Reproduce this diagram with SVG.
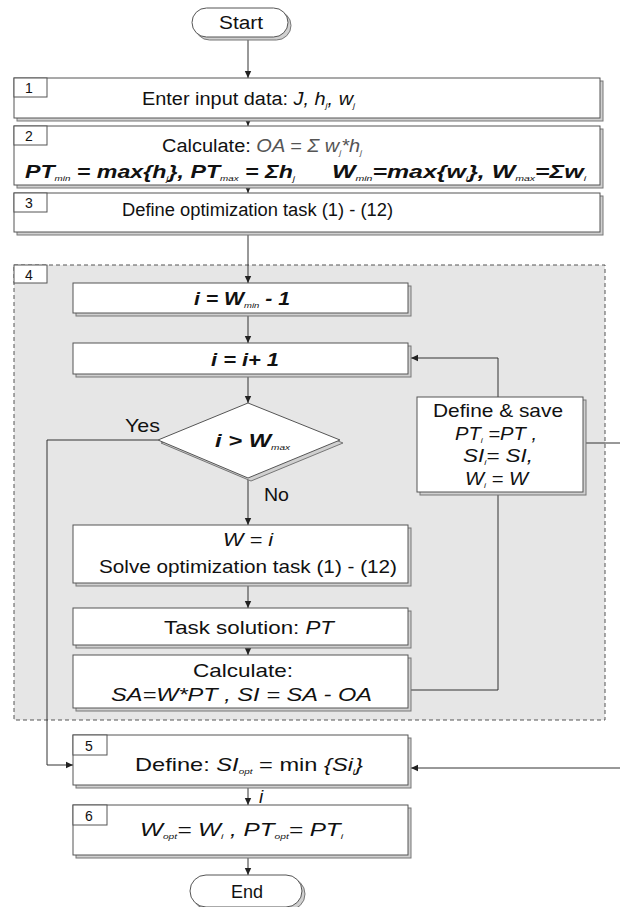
<svg xmlns="http://www.w3.org/2000/svg" width="620" height="907" viewBox="0 0 620 907">
<style>
text{font-family:"Liberation Sans",Arial,sans-serif;fill:#111;}
.box{fill:#fff;stroke:#555;stroke-width:1;}
.sh{fill:#d0d0d0;stroke:#777;stroke-width:1;}
.num{font-size:14px;}
.t{font-size:18px;}
.u{font-size:19px;}
.it{font-style:italic;}
.bi{font-style:italic;font-weight:bold;}
.sub{font-size:8px;font-weight:normal;}
.c{fill:none;stroke:#333;stroke-width:1;}
</style>
<defs>
<marker id="ah" markerWidth="8" markerHeight="8" refX="7" refY="4" orient="auto" markerUnits="userSpaceOnUse">
<path d="M0,0.8 L7,4 L0,7.2 Z" fill="#222"/>
</marker>
</defs>

<g id="region4">
<rect x="14" y="265" width="591" height="455" fill="#e6e6e6" stroke="#555" stroke-dasharray="4,3"/>
<rect x="14" y="265" width="33" height="18" class="box"/>
<text x="25" y="280" class="num">4</text>
</g>

<g id="connectors">
<line x1="248" y1="37" x2="248" y2="78" class="c" marker-end="url(#ah)"/>
<line x1="248" y1="121" x2="248" y2="126" class="c" marker-end="url(#ah)"/>
<line x1="248" y1="188" x2="248" y2="193" class="c" marker-end="url(#ah)"/>
<line x1="248" y1="235" x2="248" y2="283" class="c" marker-end="url(#ah)"/>
<line x1="248" y1="316" x2="248" y2="343" class="c" marker-end="url(#ah)"/>
<line x1="248" y1="377" x2="248" y2="403" class="c" marker-end="url(#ah)"/>
<line x1="248" y1="479" x2="248" y2="525" class="c" marker-end="url(#ah)"/>
<line x1="248" y1="586" x2="248" y2="608" class="c" marker-end="url(#ah)"/>
<line x1="248" y1="648" x2="248" y2="655" class="c" marker-end="url(#ah)"/>
<polyline points="411,690 498,690 498,495" class="c"/>
<polyline points="498,397 498,358 411,358" class="c" marker-end="url(#ah)"/>
<line x1="586" y1="443" x2="620" y2="443" class="c"/>
<polyline points="158,440 47,440 47,765 73,765" class="c" marker-end="url(#ah)"/>
<line x1="620" y1="768" x2="411" y2="768" class="c" marker-end="url(#ah)"/>
<line x1="248" y1="788" x2="248" y2="805" class="c" marker-end="url(#ah)"/>
<line x1="248" y1="858" x2="248" y2="875" class="c" marker-end="url(#ah)"/>
<text x="125" y="432" class="u" textLength="35" lengthAdjust="spacingAndGlyphs">Yes</text>
<text x="264" y="501" class="u" textLength="25" lengthAdjust="spacingAndGlyphs">No</text>
<text x="259" y="803" class="u it">i</text>
</g>

<g id="start">
<rect x="195" y="11" width="96" height="29" rx="14.5" class="sh"/>
<rect x="192" y="8" width="96" height="29" rx="14.5" class="box"/>
<text x="219" y="29" class="t" textLength="44" lengthAdjust="spacingAndGlyphs">Start</text>
</g>

<g id="n1">
<rect x="17" y="81" width="586" height="40" class="sh"/>
<rect x="14" y="78" width="586" height="40" class="box"/>
<rect x="14" y="78" width="33" height="19" class="box"/>
<text x="25" y="93" class="num">1</text>
<text x="142" y="105" class="t" textLength="213" lengthAdjust="spacingAndGlyphs">Enter input data: <tspan class="it">J, h<tspan class="sub" dy="3">j</tspan><tspan dy="-3">, w</tspan><tspan class="sub" dy="3">j</tspan></tspan></text>
</g>

<g id="n2">
<rect x="17" y="129" width="586" height="59" class="sh"/>
<rect x="14" y="126" width="586" height="59" class="box"/>
<rect x="14" y="126" width="33" height="19" class="box"/>
<text x="25" y="141" class="num">2</text>
<text x="162" y="152" class="t" textLength="200" lengthAdjust="spacingAndGlyphs">Calculate: <tspan class="it" fill="#555">OA = Σ w<tspan class="sub" dy="3">j</tspan><tspan dy="-3">*h</tspan><tspan class="sub" dy="3">j</tspan></tspan></text>
<text x="25" y="178" class="bi" font-size="19" textLength="270" lengthAdjust="spacingAndGlyphs">PT<tspan class="sub" dy="3">min</tspan><tspan dy="-3"> = max{h</tspan><tspan class="sub" dy="3">j</tspan><tspan dy="-3">}, PT</tspan><tspan class="sub" dy="3">max</tspan><tspan dy="-3"> = Σh</tspan><tspan class="sub" dy="3">j</tspan></text>
<text x="332" y="178" class="bi" font-size="19" textLength="254" lengthAdjust="spacingAndGlyphs">W<tspan class="sub" dy="3">min</tspan><tspan dy="-3">=max{w</tspan><tspan class="sub" dy="3">i</tspan><tspan dy="-3">},  W</tspan><tspan class="sub" dy="3">max</tspan><tspan dy="-3">=Σw</tspan><tspan class="sub" dy="3">i</tspan></text>
</g>

<g id="n3">
<rect x="17" y="196" width="586" height="39" class="sh"/>
<rect x="14" y="193" width="586" height="39" class="box"/>
<rect x="14" y="193" width="33" height="19" class="box"/>
<text x="25" y="208" class="num">3</text>
<text x="122" y="216" class="t" textLength="271" lengthAdjust="spacingAndGlyphs">Define optimization task (1) - (12)</text>
</g>

<g id="init">
<rect x="76" y="286" width="335" height="30" class="sh"/>
<rect x="73" y="283" width="335" height="30" class="box"/>
<text x="194" y="305" class="t bi" textLength="96" lengthAdjust="spacingAndGlyphs">i = W<tspan class="sub" dy="3">min</tspan><tspan dy="-3"> - 1</tspan></text>
</g>

<g id="incr">
<rect x="76" y="346" width="335" height="31" class="sh"/>
<rect x="73" y="343" width="335" height="31" class="box"/>
<text x="211" y="366" class="u bi" textLength="68" lengthAdjust="spacingAndGlyphs">i = i+ 1</text>
</g>

<g id="cond">
<polygon points="251,406 343,443 251,481 161,443" class="sh"/>
<polygon points="248,403 340,440 248,478 158,440" class="box"/>
<text x="215" y="447" class="u bi" textLength="75" lengthAdjust="spacingAndGlyphs">i &gt; W<tspan class="sub" dy="3">max</tspan></text>
</g>

<g id="solve">
<rect x="76" y="528" width="335" height="58" class="sh"/>
<rect x="73" y="525" width="335" height="58" class="box"/>
<text x="223" y="546" class="u it" textLength="50" lengthAdjust="spacingAndGlyphs">W = i</text>
<text x="99" y="573" class="u" textLength="298" lengthAdjust="spacingAndGlyphs">Solve optimization task (1) - (12)</text>
</g>

<g id="sol">
<rect x="76" y="611" width="335" height="37" class="sh"/>
<rect x="73" y="608" width="335" height="37" class="box"/>
<text x="164" y="634" class="u" textLength="170" lengthAdjust="spacingAndGlyphs">Task solution: <tspan class="it">PT</tspan></text>
</g>

<g id="calc">
<rect x="76" y="658" width="335" height="53" class="sh"/>
<rect x="73" y="655" width="335" height="53" class="box"/>
<text x="193" y="677" class="u" textLength="100" lengthAdjust="spacingAndGlyphs">Calculate:</text>
<text x="111" y="701" class="u it" textLength="261" lengthAdjust="spacingAndGlyphs">SA=W*PT , SI = SA - OA</text>
</g>

<g id="save">
<rect x="420" y="400" width="166" height="95" class="sh"/>
<rect x="417" y="397" width="166" height="95" class="box"/>
<text x="433" y="417" class="u" textLength="130" lengthAdjust="spacingAndGlyphs">Define &amp; save</text>
<text x="455" y="440" class="u it" textLength="82" lengthAdjust="spacingAndGlyphs">PT<tspan class="sub" dy="3">i</tspan><tspan dy="-3"> =PT ,</tspan></text>
<text x="463" y="462" class="u it" textLength="70" lengthAdjust="spacingAndGlyphs">SI<tspan class="sub" dy="3">i</tspan><tspan dy="-3">= SI,</tspan></text>
<text x="465" y="485" class="u it" textLength="63" lengthAdjust="spacingAndGlyphs">W<tspan class="sub" dy="3">i</tspan><tspan dy="-3"> = W</tspan></text>
</g>

<g id="n5">
<rect x="76" y="738" width="335" height="50" class="sh"/>
<rect x="73" y="735" width="335" height="50" class="box"/>
<rect x="73" y="735" width="34" height="20" class="box"/>
<text x="85" y="751" class="num">5</text>
<text x="135" y="771" class="u" textLength="228" lengthAdjust="spacingAndGlyphs">Define:  <tspan class="it">SI</tspan><tspan class="sub it" dy="3">opt</tspan><tspan dy="-3"> =  min </tspan><tspan class="it">{Si</tspan><tspan class="sub it" dy="3">i</tspan><tspan class="it" dy="-3">}</tspan></text>
</g>

<g id="n6">
<rect x="76" y="808" width="335" height="50" class="sh"/>
<rect x="73" y="805" width="335" height="50" class="box"/>
<rect x="73" y="805" width="34" height="20" class="box"/>
<text x="85" y="821" class="num">6</text>
<text x="140" y="836" class="u it" textLength="203" lengthAdjust="spacingAndGlyphs">W<tspan class="sub" dy="3">opt</tspan><tspan dy="-3">= W</tspan><tspan class="sub" dy="3">i</tspan><tspan dy="-3"> , PT</tspan><tspan class="sub" dy="3">opt</tspan><tspan dy="-3">= PT</tspan><tspan class="sub" dy="3">i</tspan></text>
</g>

<g id="end">
<rect x="193" y="878" width="112" height="32" rx="16" class="sh"/>
<rect x="190" y="875" width="112" height="32" rx="16" class="box"/>
<text x="247" y="898" class="t" text-anchor="middle">End</text>
</g>
</svg>
